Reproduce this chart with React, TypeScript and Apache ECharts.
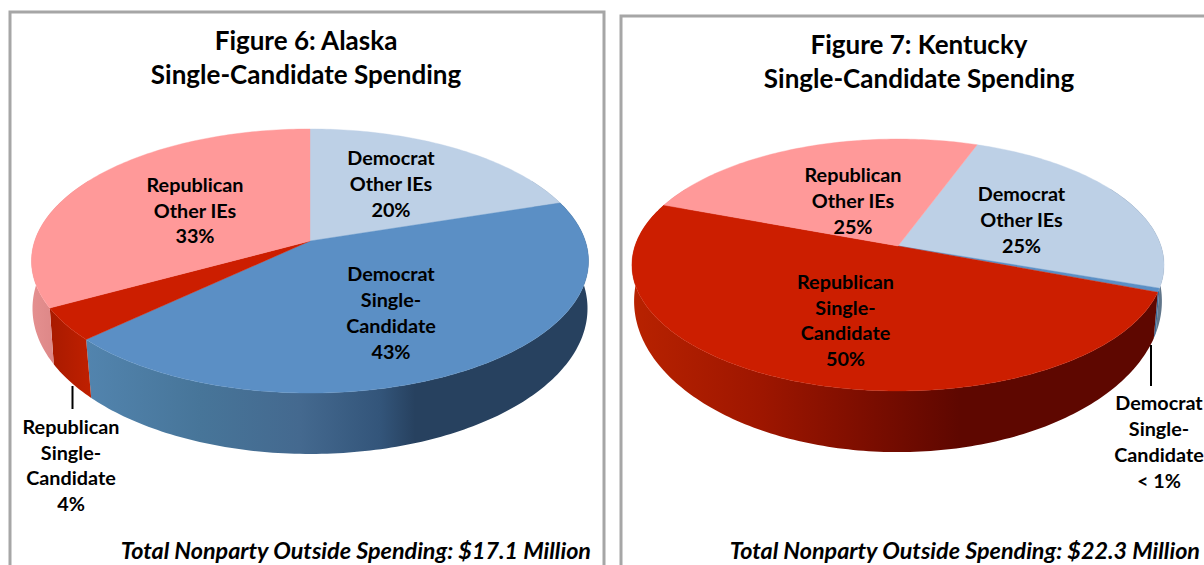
import React, { useEffect, useRef } from "react";
import * as echarts from "echarts";

// ---- data ----
const alaskaNames = ["Democrat Other IEs", "Democrat Single-Candidate", "Republican Single-Candidate", "Republican Other IEs"];
const alaskaValues = [20, 43, 4, 33];
const alaskaLabels = ["Democrat\nOther IEs\n20%", "Democrat\nSingle-\nCandidate\n43%", "Republican\nSingle-\nCandidate\n4%", "Republican\nOther IEs\n33%"];
const alaskaTitle = "Figure 6: Alaska\nSingle-Candidate Spending";
const alaskaTotal = "Total Nonparty Outside Spending: $17.1 Million";

const kentuckyNames = ["Democrat Other IEs", "Democrat Single-Candidate", "Republican Single-Candidate", "Republican Other IEs"];
const kentuckyValues = [24.7, 0.5, 49.9, 24.9];
const kentuckyLabels = ["Democrat\nOther IEs\n25%", "Democrat\nSingle-\nCandidate\n< 1%", "Republican\nSingle-\nCandidate\n50%", "Republican\nOther IEs\n25%"];
const kentuckyTitle = "Figure 7: Kentucky\nSingle-Candidate Spending";
const kentuckyTotal = "Total Nonparty Outside Spending: $22.3 Million";

// ---- layout and style ----
const FONT = "Lato, Carlito, 'Open Sans', sans-serif";
const topColors = ["#BDD0E6", "#5B8FC5", "#CC1E00", "#FF9999"];
type Stop = [number, string];
const alaskaGeo = {
  cx: 310, cy: 241, c: 275.3, a: 129, k: 0.1515, start: 0,
  bc: 275.5, ba: 143.4, bk: 0.12, drop: 50,
};
const kentuckyGeo = {
  cx: 898, cy: 246, c: 263, a: 123.1, k: 0.1508, start: 20.1,
  bc: 262, ba: 148.8, bk: 0.12, drop: 37,
};
const alaskaWalls: Stop[][] = [
  [[31, "#7F93A8"], [590, "#7F93A8"]],
  [[86, "#5284AE"], [200, "#477599"], [300, "#44698F"], [380, "#33557A"], [415, "#27415F"], [590, "#27415F"]],
  [[50, "#A81A00"], [92, "#C02000"]],
  [[31, "#E59090"], [60, "#DB8585"]],
];
const kentuckyWalls: Stop[][] = [
  [[898, "#8FA4BA"], [1170, "#5F7488"]],
  [[1140, "#35608C"], [1170, "#3F6C9C"]],
  [[632, "#B82200"], [760, "#9E1600"], [860, "#7E0E00"], [960, "#5E0700"], [1170, "#5E0700"]],
  [[632, "#DB8585"], [680, "#DB8585"]],
];

function point(g: typeof alaskaGeo, deg: number, bottom: boolean): number[] {
  const t = (deg * Math.PI) / 180;
  const u = Math.sin(t);
  const v = -Math.cos(t);
  if (bottom) {
    const d = 1 - g.bk * v;
    return [g.cx + (g.bc * u) / d, g.cy + g.drop + (g.ba * v) / d];
  }
  const d = 1 - g.k * v;
  return [g.cx + (g.c * u) / d, g.cy + (g.a * v) / d];
}

function arc(g: typeof alaskaGeo, from: number, to: number, bottom: boolean): number[][] {
  const out: number[][] = [];
  const n = Math.max(2, Math.ceil(Math.abs(to - from)));
  for (let i = 0; i <= n; i++) out.push(point(g, from + ((to - from) * i) / n, bottom));
  return out;
}

function spans(values: number[], start: number): number[][] {
  const total = values.reduce((p, q) => p + q, 0);
  let acc = start;
  return values.map((val) => {
    const from = acc;
    acc += (val / total) * 360;
    return [from, acc];
  });
}

function pieSeries(names: string[], values: number[], g: typeof alaskaGeo, walls: Stop[][]): any[] {
  const sp = spans(values, g.start);
  const data = values.map((value, i) => ({ name: names[i], value }));
  const wall = {
    type: "custom",
    coordinateSystem: "none",
    silent: true,
    z: 2,
    data,
    renderItem: (params: any) => {
      const i = params.dataIndex;
      const from = Math.max(sp[i][0], 60);
      const to = Math.min(sp[i][1], 300);
      if (to <= from) return { type: "group", children: [] };
      const stops = walls[i];
      const x0 = stops[0][0];
      const x1 = stops[stops.length - 1][0];
      const fill = new echarts.graphic.LinearGradient(
        x0, 0, x1, 0,
        stops.map((s) => ({ offset: (s[0] - x0) / (x1 - x0), color: s[1] })),
        true,
      );
      const points = arc(g, from, to, false).concat(arc(g, to, from, true));
      return { type: "polygon", shape: { points }, style: { fill } };
    },
  };
  const top = {
    type: "custom",
    coordinateSystem: "none",
    silent: true,
    z: 3,
    data,
    renderItem: (params: any) => {
      const i = params.dataIndex;
      const points = [[g.cx, g.cy] as number[]].concat(arc(g, sp[i][0], sp[i][1], false));
      return {
        type: "polygon",
        shape: { points },
        style: { fill: topColors[i], stroke: topColors[i], lineWidth: 0.4 },
      };
    },
  };
  return [wall, top];
}

const labelStyle = (text: string, x: number, y: number) => ({
  type: "text",
  z: 10,
  silent: true,
  style: {
    text,
    x,
    y,
    align: "center",
    verticalAlign: "middle",
    lineHeight: 25.8,
    font: `bold 19.8px ${FONT}`,
    fill: "#000000",
  },
});

const totalStyle = (text: string, x: number, y: number) => ({
  type: "text",
  z: 10,
  silent: true,
  style: {
    text,
    x,
    y,
    align: "right",
    verticalAlign: "middle",
    font: `italic bold 23.35px ${FONT}`,
    fill: "#000000",
  },
});

const frame = (x: number, y: number, w: number, h: number) => ({
  type: "rect",
  z: 0,
  silent: true,
  shape: { x, y, width: w, height: h },
  style: { fill: "#FFFFFF", stroke: "#A6A6A6", lineWidth: 3 },
});

const leader = (x: number, y1: number, y2: number) => ({
  type: "line",
  z: 9,
  silent: true,
  shape: { x1: x, y1, x2: x, y2 },
  style: { stroke: "#000000", lineWidth: 2 },
});

const titleOf = (text: string, left: number, top: number) => ({
  text,
  left,
  top,
  textAlign: "center",
  textStyle: { fontFamily: FONT, fontWeight: "bold", fontSize: 26, lineHeight: 34, color: "#000000" },
});

export default function App() {
  const ref = useRef<HTMLDivElement>(null);
  useEffect(() => {
    const chart = echarts.init(ref.current!, undefined, { renderer: "svg" });
    chart.setOption({
      animation: false,
      backgroundColor: "#FFFFFF",
      title: [titleOf(alaskaTitle, 301, 18), titleOf(kentuckyTitle, 914, 22)],
      graphic: [
        frame(10, 12, 594, 600),
        frame(621, 16, 620, 600),
        leader(72.5, 386, 409),
        leader(1151, 345, 386),
        labelStyle(alaskaLabels[0], 391, 183),
        labelStyle(alaskaLabels[1], 391, 312),
        labelStyle(alaskaLabels[2], 71, 464.5),
        labelStyle(alaskaLabels[3], 195, 209.5),
        labelStyle(kentuckyLabels[0], 1021.5, 219),
        labelStyle(kentuckyLabels[1], 1159, 441),
        labelStyle(kentuckyLabels[2], 845.5, 319.5),
        labelStyle(kentuckyLabels[3], 853, 200),
        totalStyle(alaskaTotal, 591, 550),
        totalStyle(kentuckyTotal, 1200, 550),
      ],
      series: [
        ...pieSeries(alaskaNames, alaskaValues, alaskaGeo, alaskaWalls),
        ...pieSeries(kentuckyNames, kentuckyValues, kentuckyGeo, kentuckyWalls),
      ],
    });
    return () => chart.dispose();
  }, []);
  return (
    <div
      ref={ref}
      style={{ position: "absolute", left: 0, top: 0, width: 1204, height: 565, overflow: "hidden" }}
    />
  );
}
